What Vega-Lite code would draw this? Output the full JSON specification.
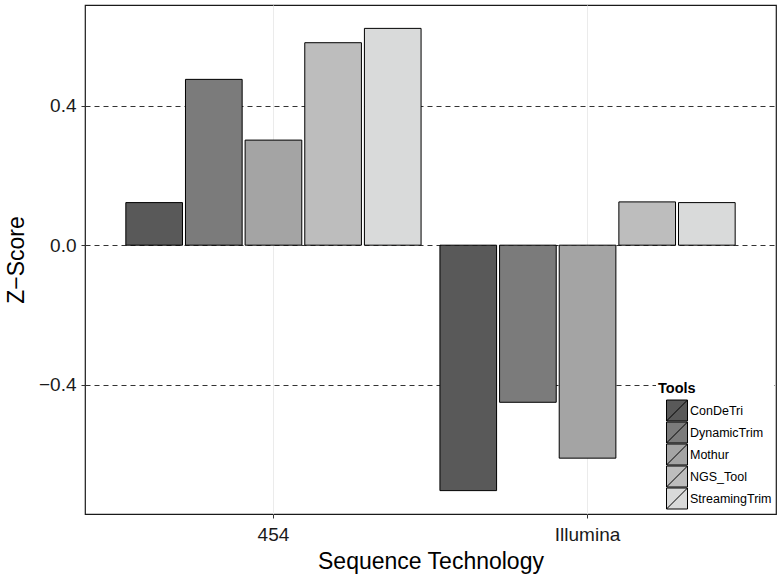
{
  "$schema": "https://vega.github.io/schema/vega-lite/v6.json",
  "width": 691,
  "height": 509,
  "autosize": "none",
  "padding": {"left": 85, "top": 5, "right": 5, "bottom": 64},
  "background": "white",
  "config": {
    "font": "Liberation Sans",
    "view": {"stroke": "#1a1a1a", "strokeWidth": 1.2},
    "axis": {"domain": false}
  },
  "data": {
    "values": [
      {"tech": "454", "tool": "ConDeTri", "z": 0.122},
      {"tech": "454", "tool": "DynamicTrim", "z": 0.475},
      {"tech": "454", "tool": "Mothur", "z": 0.301},
      {"tech": "454", "tool": "NGS_Tool", "z": 0.580},
      {"tech": "454", "tool": "StreamingTrim", "z": 0.621},
      {"tech": "Illumina", "tool": "ConDeTri", "z": -0.703},
      {"tech": "Illumina", "tool": "DynamicTrim", "z": -0.450},
      {"tech": "Illumina", "tool": "Mothur", "z": -0.610},
      {"tech": "Illumina", "tool": "NGS_Tool", "z": 0.124},
      {"tech": "Illumina", "tool": "StreamingTrim", "z": 0.122}
    ]
  },
  "mark": {"type": "bar", "stroke": "black", "strokeWidth": 1},
  "encoding": {
    "x": {
      "field": "tech",
      "type": "nominal",
      "scale": {"paddingInner": 0.06, "paddingOuter": 0.13},
      "axis": {
        "title": "Sequence Technology",
        "titleFontSize": 23,
        "titleFontWeight": "normal",
        "titleColor": "black",
        "titlePadding": 6,
        "labelAngle": 0,
        "labelFontSize": 19,
        "labelColor": "#1a1a1a",
        "labelPadding": 7,
        "tickSize": 4,
        "tickColor": "#333",
        "bandPosition": 0.5,
        "grid": true,
        "gridColor": "#ebebeb",
        "gridWidth": 1
      }
    },
    "xOffset": {
      "field": "tool",
      "type": "nominal",
      "scale": {"paddingInner": 0.05, "paddingOuter": 0}
    },
    "y": {
      "field": "z",
      "type": "quantitative",
      "scale": {"domain": [-0.770, 0.688], "nice": false, "zero": false},
      "axis": {
        "title": "Z−Score",
        "titleFontSize": 23,
        "titleFontWeight": "normal",
        "titleColor": "black",
        "titlePadding": 10,
        "values": [-0.4, 0, 0.4],
        "format": ".1f",
        "labelFontSize": 19,
        "labelColor": "#1a1a1a",
        "labelPadding": 5,
        "tickSize": 4,
        "tickColor": "#333",
        "grid": true,
        "gridColor": "#333",
        "gridDash": [5, 4],
        "gridWidth": 1
      }
    },
    "fill": {
      "field": "tool",
      "type": "nominal",
      "scale": {
        "domain": ["ConDeTri", "DynamicTrim", "Mothur", "NGS_Tool", "StreamingTrim"],
        "range": ["#595959", "#7b7b7b", "#a4a4a4", "#bdbdbd", "#d9dada"]
      },
      "legend": {
        "title": "Tools",
        "orient": "bottom-right",
        "offset": 2,
        "titleFontSize": 14.5,
        "titleFontWeight": "bold",
        "titleColor": "black",
        "titlePadding": 3,
        "labelFontSize": 12.5,
        "labelColor": "black",
        "labelOffset": 2,
        "symbolType": "M-1,-1H1V1H-1Z M-1,1L1,-1",
        "symbolSize": 441,
        "symbolOffset": 8,
        "symbolStrokeColor": "black",
        "symbolStrokeWidth": 1,
        "symbolOpacity": 1,
        "rowPadding": -1,
        "padding": 2,
        "fillColor": "white",
        "encode": {
          "symbols": {"update": {"strokeJoin": {"value": "bevel"}}}
        }
      }
    }
  }
}
